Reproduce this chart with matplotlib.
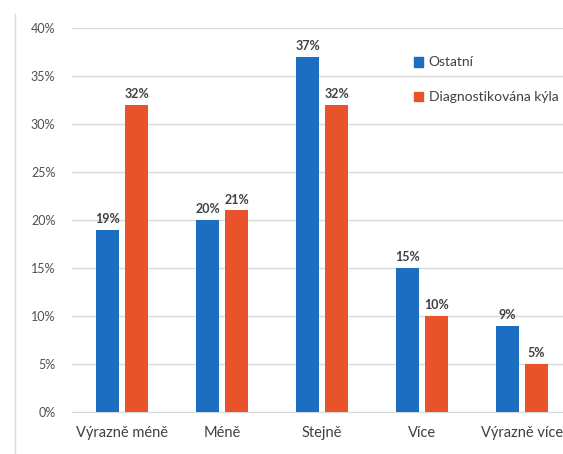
import numpy as np
import matplotlib.pyplot as plt
from matplotlib.patches import Patch
from matplotlib.lines import Line2D
from matplotlib.ticker import FuncFormatter

categories = ['Výrazně méně', 'Méně', 'Stejně', 'Více', 'Výrazně více']
ostatni = [19, 20, 37, 15, 9]
diagnostikovana = [32, 21, 32, 10, 5]
series_names = ['Ostatní', 'Diagnostikována kýla']
y_ticks = [0, 5, 10, 15, 20, 25, 30, 35, 40]

blue = '#1b6ec2'
orange = '#e9532b'
plt.rcParams['font.family'] = ['Lato', 'DejaVu Sans']

W, H = 563, 454
fig = plt.figure(figsize=(W / 100, H / 100), dpi=100)
# axes run past the right edge, the reference is cropped there
ax = fig.add_axes([72 / W, 1 - 412 / H, 500 / W, 384 / H])

x = np.arange(len(categories))
bw = 0.23
off = 0.145
b1 = ax.bar(x - off, ostatni, bw, color=blue, zorder=3)
b2 = ax.bar(x + off, diagnostikovana, bw, color=orange, zorder=3)

for bars, vals in ((b1, ostatni), (b2, diagnostikovana)):
    for r, v in zip(bars, vals):
        ax.annotate(f'{v}%', (r.get_x() + r.get_width() / 2, v),
                    xytext=(0, 3.5), textcoords='offset points',
                    ha='center', va='bottom', fontsize=9, fontweight='bold',
                    color='#404040')

ax.set_xlim(-0.5, len(categories) - 0.5)
ax.set_ylim(0, 40)
ax.set_yticks(y_ticks)
ax.yaxis.set_major_formatter(FuncFormatter(lambda v, p: f'{v:.0f}%'))
ax.set_xticks(x)
ax.set_xticklabels(categories)
ax.tick_params(axis='y', length=0, pad=12, labelsize=9, labelcolor='#505050')
ax.tick_params(axis='x', length=0, pad=10, labelsize=10.5, labelcolor='#404040')
ax.grid(axis='y', color='#d9d9d9', lw=1, zorder=0)
for s in ('top', 'right', 'left'):
    ax.spines[s].set_visible(False)
ax.spines['bottom'].set_color('#d9d9d9')

handles = [Patch(color=blue), Patch(color=orange)]
fig.legend(handles, series_names, loc='upper left',
           bbox_to_anchor=(401 / W, 1 - 44 / H), frameon=False,
           fontsize=10, handlelength=0.7, handleheight=0.7,
           handletextpad=0.4, labelspacing=1.65, labelcolor='#404040')

# thin border line of the source image on the left
fig.add_artist(Line2D([15 / W, 15 / W], [0, 1 - 14 / H], color='#dcdcdc', lw=1))

fig.savefig('out.png', dpi=100)
